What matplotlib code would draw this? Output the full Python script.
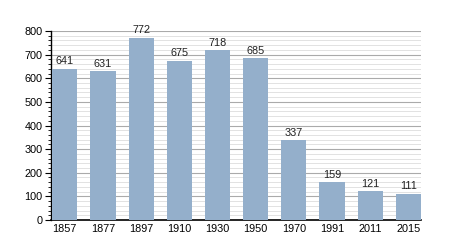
import matplotlib
matplotlib.use("Agg")
import matplotlib.pyplot as plt
from matplotlib.ticker import MultipleLocator

years = ["1857", "1877", "1897", "1910", "1930", "1950", "1970", "1991", "2011", "2015"]
population = [641, 631, 772, 675, 718, 685, 337, 159, 121, 111]

plt.rcParams['font.family'] = ['Liberation Sans', 'DejaVu Sans']

fig = plt.figure(figsize=(4.5, 2.5), dpi=100)
ax = fig.add_axes([51/450, 30/250, 370/450, 189/250])

x = range(len(years))
ax.bar(x, population, width=0.66, color="#94afcb", zorder=3)
for xi, v in zip(x, population):
    ax.text(xi, v + 10, str(v), ha="center", va="bottom", fontsize=7.8, color="#222222", zorder=4)

ax.set_xlim(-0.36, len(years) - 0.67)
ax.set_ylim(0, 800)
ax.yaxis.set_major_locator(MultipleLocator(100))
ax.yaxis.set_minor_locator(MultipleLocator(20))
ax.grid(axis="y", which="major", color="#aaaaaa", linewidth=0.8, zorder=1)
ax.grid(axis="y", which="minor", color="#dddddd", linewidth=0.6, zorder=1)
ax.set_xticks(list(x))
ax.set_xticklabels(years)
ax.tick_params(axis="x", length=0, labelsize=7.8, pad=3)
ax.tick_params(axis="y", which="major", length=4, width=0.8, labelsize=7.8, pad=2)
ax.tick_params(axis="y", which="minor", length=2, width=0.6)
for s in ["top", "right"]:
    ax.spines[s].set_visible(False)
ax.spines["left"].set_linewidth(1.0)
ax.spines["bottom"].set_linewidth(1.2)

fig.savefig("out.png", dpi=100)
